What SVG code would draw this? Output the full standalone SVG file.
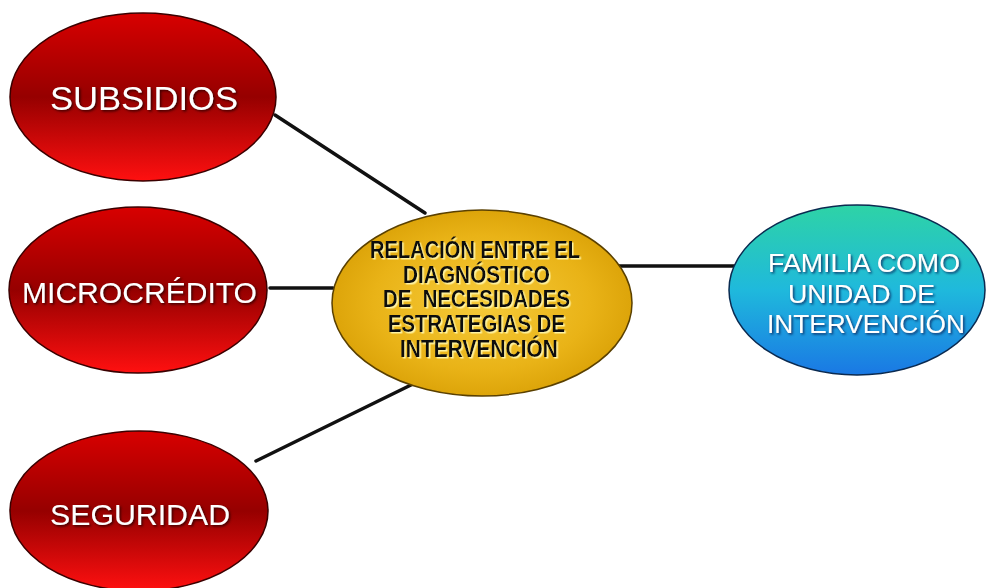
<svg xmlns="http://www.w3.org/2000/svg" width="991" height="588" viewBox="0 0 991 588">
<defs>
<linearGradient id="gRed" x1="0" y1="0" x2="0" y2="1">
<stop offset="0" stop-color="#d80000"/>
<stop offset="0.5" stop-color="#960000"/>
<stop offset="1" stop-color="#ff1010"/>
</linearGradient>
<radialGradient id="gGold" cx="0.5" cy="0.5" r="0.6">
<stop offset="0" stop-color="#f6cb3a"/>
<stop offset="0.6" stop-color="#e9b317"/>
<stop offset="1" stop-color="#d49a00"/>
</radialGradient>
<linearGradient id="gBlue" x1="0" y1="0" x2="0" y2="1">
<stop offset="0" stop-color="#2ed3a6"/>
<stop offset="0.5" stop-color="#1fb9dc"/>
<stop offset="1" stop-color="#1a78e4"/>
</linearGradient>
<filter id="shDark" x="-10%" y="-30%" width="120%" height="160%">
<feDropShadow dx="1.5" dy="1.5" stdDeviation="0.8" flood-color="#300000" flood-opacity="0.9"/>
</filter>
<filter id="shLight" x="-10%" y="-30%" width="120%" height="160%">
<feDropShadow dx="1.5" dy="1.5" stdDeviation="0.5" flood-color="#fff3a0" flood-opacity="1"/>
</filter>
<filter id="shBlue" x="-10%" y="-30%" width="120%" height="160%">
<feDropShadow dx="1.5" dy="1.5" stdDeviation="0.8" flood-color="#0a2a60" flood-opacity="0.9"/>
</filter>
</defs>
<style>
.red{fill:url(#gRed);stroke:#3a0000;stroke-width:1.5}
.gold{fill:url(#gGold);stroke:#5a4000;stroke-width:1.5}
.blue{fill:url(#gBlue);stroke:#0a2a50;stroke-width:1.5}
.wt{font-family:"Liberation Sans",Arial,sans-serif;fill:#ffffff;text-anchor:middle;filter:url(#shDark)}
.ct{font-family:"Liberation Sans",Arial,sans-serif;font-weight:bold;fill:#111111;text-anchor:middle;font-size:23px;filter:url(#shLight)}
.bt{font-family:"Liberation Sans",Arial,sans-serif;fill:#ffffff;text-anchor:middle;font-size:26px;filter:url(#shBlue)}
.conn line{stroke:#111111;stroke-width:3.5;stroke-linecap:round}
</style>
<rect width="991" height="588" fill="#ffffff"/>
<g id="connectors" class="conn">
<line x1="275" y1="115" x2="425" y2="213"/>
<line x1="270" y1="288" x2="333" y2="288"/>
<line x1="256" y1="461" x2="415" y2="383"/>
<line x1="617" y1="266" x2="735" y2="266"/>
</g>
<g id="subsidios">
<ellipse class="red" cx="143" cy="97" rx="133" ry="84"/>
<text class="wt" x="144" y="110" font-size="34" textLength="188" lengthAdjust="spacingAndGlyphs">SUBSIDIOS</text>
</g>
<g id="microcredito">
<ellipse class="red" cx="138" cy="290" rx="129" ry="83"/>
<text class="wt" x="139.5" y="303" font-size="30" textLength="235" lengthAdjust="spacingAndGlyphs">MICROCRÉDITO</text>
</g>
<g id="seguridad">
<ellipse class="red" cx="139" cy="511" rx="129" ry="80"/>
<text class="wt" x="140" y="525" font-size="30" textLength="180" lengthAdjust="spacingAndGlyphs">SEGURIDAD</text>
</g>
<g id="relacion">
<ellipse class="gold" cx="482" cy="303" rx="150" ry="93"/>
<text class="ct" x="475" y="258" textLength="210" lengthAdjust="spacingAndGlyphs">RELACIÓN ENTRE EL</text>
<text class="ct" x="476.5" y="283" textLength="147" lengthAdjust="spacingAndGlyphs">DIAGNÓSTICO</text>
<text class="ct" x="476.5" y="307" textLength="187" lengthAdjust="spacingAndGlyphs" xml:space="preserve">DE  NECESIDADES</text>
<text class="ct" x="476.5" y="332" textLength="177" lengthAdjust="spacingAndGlyphs">ESTRATEGIAS DE</text>
<text class="ct" x="479" y="357" textLength="158" lengthAdjust="spacingAndGlyphs">INTERVENCIÓN</text>
</g>
<g id="familia">
<ellipse class="blue" cx="857" cy="290" rx="128" ry="85"/>
<text class="bt" x="864" y="272" textLength="192" lengthAdjust="spacingAndGlyphs">FAMILIA COMO</text>
<text class="bt" x="861.5" y="303" textLength="147" lengthAdjust="spacingAndGlyphs">UNIDAD DE</text>
<text class="bt" x="866" y="333" textLength="198" lengthAdjust="spacingAndGlyphs">INTERVENCIÓN</text>
</g>
</svg>
